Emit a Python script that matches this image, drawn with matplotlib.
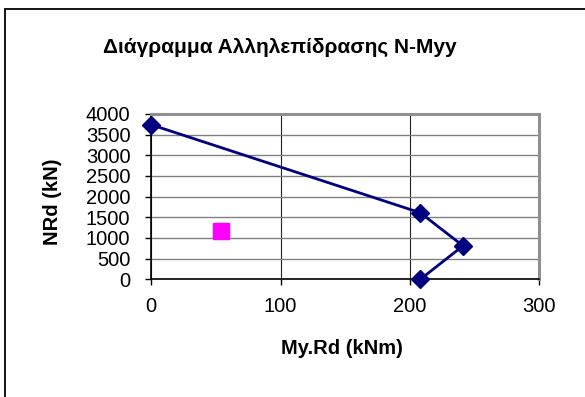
import matplotlib
matplotlib.use("Agg")
import matplotlib.pyplot as plt
from matplotlib.patches import Rectangle

plt.rcParams['font.family'] = ['Liberation Sans', 'DejaVu Sans']

# Interaction curve
my_rd = [0, 208, 241, 208]
n_rd = [3740, 1610, 810, 0]
# Design point
my_ed = [54]
n_ed = [1175]

x_ticks = [0, 100, 200, 300]
y_ticks = [0, 500, 1000, 1500, 2000, 2500, 3000, 3500, 4000]

W, H = 585, 397
fig = plt.figure(figsize=(W / 100, H / 100), dpi=100)
fig.patch.set_facecolor('white')

# outer chart border (cropped at right and bottom)
fig.add_artist(Rectangle((4.5 / W, -0.1), 1.2, 1 - 8.5 / H + 0.1, transform=fig.transFigure,
                         fill=False, edgecolor='black', linewidth=1.3))

ax = fig.add_axes([151.3 / W, 1 - 279.3 / H, (539.3 - 151.3) / W, (279.3 - 114) / H])
ax.set_xlim(0, 300)
ax.set_ylim(0, 4000)
ax.set_xticks(x_ticks)
ax.set_yticks(y_ticks)
ax.tick_params(axis='both', labelsize=14.5, direction='out', length=4, width=1, colors='black')
ax.tick_params(axis='y', pad=11)
ax.tick_params(axis='x', pad=9)

ax.grid(True, axis='y', color='#808080', linewidth=1.0)
ax.grid(True, axis='x', color='#222222', linewidth=0.8)
ax.set_axisbelow(True)

for s in ['top', 'right']:
    ax.spines[s].set_color('#909090')
    ax.spines[s].set_linewidth(2.2)
for s in ['left', 'bottom']:
    ax.spines[s].set_color('black')
    ax.spines[s].set_linewidth(1.2)

ax.plot(my_rd, n_rd, color='#000080', linewidth=2, marker='D', markersize=9,
        markerfacecolor='#000080', markeredgecolor='#000080', clip_on=False, zorder=3)
ax.plot(my_ed, n_ed, linestyle='none', marker='s', markersize=11.5,
        markerfacecolor='#FF00FF', markeredgecolor='#FF00FF', zorder=3)

fig.text(280 / W, 1 - 47 / H, 'Διάγραμμα Αλληλεπίδρασης N-Myy', ha='center', va='center',
         fontsize=15, fontweight='bold')
fig.text(342 / W, 1 - 348 / H, 'My.Rd (kNm)', ha='center', va='center',
         fontsize=14.5, fontweight='bold')
fig.text(53 / W, 1 - 202 / H, 'NRd (kN)', ha='center', va='center', rotation=90,
         fontsize=14.5, fontweight='bold')

fig.savefig('out.png', dpi=100)
